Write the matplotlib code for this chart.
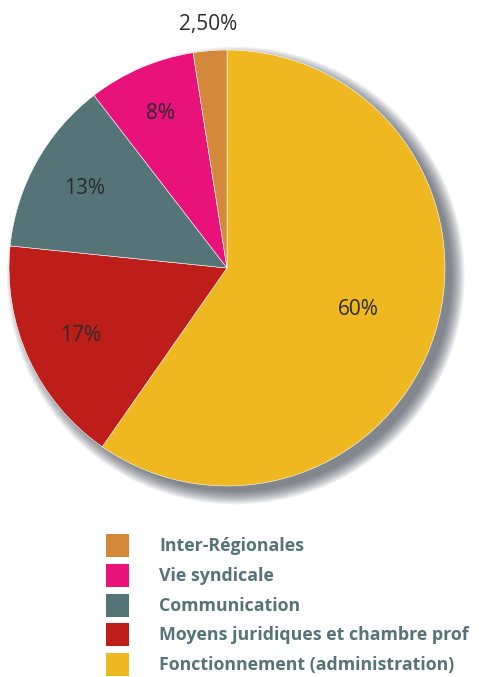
import matplotlib
matplotlib.use("Agg")
import matplotlib.pyplot as plt
from matplotlib.patches import Circle, Rectangle
import numpy as np

categories = ["Fonctionnement (administration)", "Moyens juridiques et chambre prof",
              "Communication", "Vie syndicale", "Inter-Régionales"]
values = [60, 17, 13, 8, 2.5]
value_labels = ["60%", "17%", "13%", "8%", "2,50%"]
colors = ["#F0B820", "#BE1E1A", "#557477", "#E8127A", "#D4893A"]
label_dist = [0.63, 0.74, 0.75, 0.77, 1.12]

W, H = 479, 677
fig = plt.figure(figsize=(W / 100, H / 100), dpi=100)
fig.patch.set_facecolor("white")

cx, cy, r = 227, 268, 218
ax = fig.add_axes([(cx - r) / W, 1 - (cy + r) / H, 2 * r / W, 2 * r / H])
ax.axis("off")

# blurred shadow (offset toward bottom-right)
n = 16
for i in range(n):
    rad = 0.985 + 0.065 * (1 - i / n)
    ax.add_patch(Circle((0.04, -0.035), rad, color="#2e3440", alpha=0.05, lw=0,
                        zorder=0, clip_on=False))

wedges, _ = ax.pie(values, colors=colors, startangle=90, counterclock=False,
                   radius=1.0, wedgeprops=dict(edgecolor="white", linewidth=0.4))
for w in wedges:
    w.set_zorder(2)
    w.set_clip_on(False)
ax.set_xlim(-1, 1)
ax.set_ylim(-1, 1)
ax.set_aspect("equal")

for w, lab, d in zip(wedges, value_labels, label_dist):
    ang = np.deg2rad((w.theta1 + w.theta2) / 2)
    ax.text(d * np.cos(ang), d * np.sin(ang), lab, ha="center", va="center",
            fontsize=15, color="#2b2b2b", family="Open Sans", zorder=3, clip_on=False)

# legend (reversed order)
y0, dy = 546, 29.8
for k, (cat, col) in enumerate(zip(categories[::-1], colors[::-1])):
    y = y0 + k * dy
    fig.patches.append(Rectangle((106 / W, 1 - (y + 11) / H), 23 / W, 23 / H,
                                 transform=fig.transFigure, facecolor=col, lw=0))
    fig.text(159 / W, 1 - y / H, cat, ha="left", va="center", fontsize=12.8,
             fontweight="bold", color="#557477", family="Open Sans")

fig.savefig("out.png", dpi=100, facecolor="white")
